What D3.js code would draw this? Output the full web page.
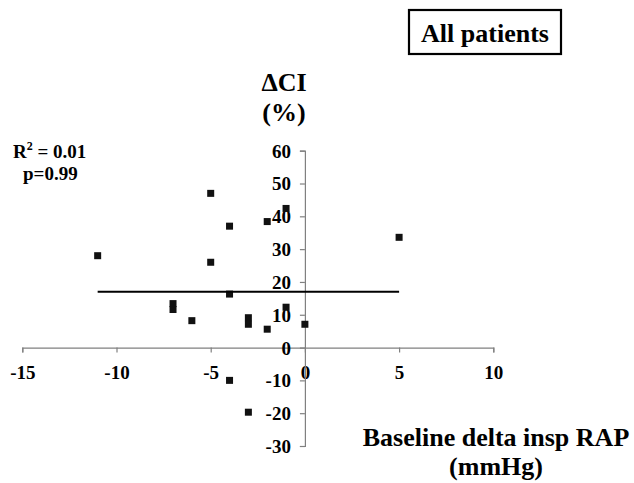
<!DOCTYPE html>
<html>
<head>
<meta charset="utf-8">
<script src="https://cdn.jsdelivr.net/npm/d3@7/dist/d3.min.js"></script>
<style>
  html, body { margin: 0; padding: 0; background: #fff; }
  svg { display: block; }
  svg text { font-family: "Liberation Serif", "Times New Roman", serif !important; font-weight: bold; fill: #000; }
</style>
</head>
<body>
<script>
// ---- data ----
const deltaRAP = [-11, -7, -7, -6, -5, -5, -4, -4, -4, -3, -3, -3, -2, -2, -1, -1, 0, 5];
const deltaCI  = [28, 13.4, 11.6, 8.2, 47, 26, 37, 16.3, -10, 9.1, 7.1, -19.7, 38.4, 5.6, 42.4, 12.3, 7.1, 33.6];
const trendX = [-11, 5];
const trendY = [17, 17];
const xTicks = [-15, -10, -5, 0, 5, 10];
const yTicks = [-30, -20, -10, 0, 10, 20, 30, 40, 50, 60];
const title = "All patients";
const statsLines = ["R", " = 0.01", "p=0.99"];

const W = 634, H = 483;
const svg = d3.select("body").append("svg").attr("width", W).attr("height", H);

const x = d3.scaleLinear().domain([-15, 10]).range([22.3, 493.3]);
const y = d3.scaleLinear().domain([-30, 60]).range([446, 150.7]);

// x axis at y=0
const gx = svg.append("g").attr("transform", `translate(0,${y(0)})`)
  .call(d3.axisBottom(x).tickValues(xTicks).tickSize(5).tickPadding(13));
// y axis at x=0
const gy = svg.append("g").attr("transform", `translate(${x(0)},0)`)
  .call(d3.axisLeft(y).tickValues(yTicks).tickSize(5).tickPadding(9));

[gx, gy].forEach(g => {
  g.attr("font-family", null);
  g.select(".domain").attr("stroke", "#808080").attr("stroke-width", 1.2);
  g.selectAll(".tick line").attr("stroke", "#808080").attr("stroke-width", 1.2);
  g.selectAll(".tick text").attr("font-size", 19).attr("fill", "#000").text(d => String(d));
});
gx.selectAll(".tick text").attr("dy", "0.71em");
gy.selectAll(".tick text").attr("dy", "0.34em");

// points
const pts = deltaRAP.map((d, i) => ({ x: d, y: deltaCI[i] }));
const ms = 7;
svg.append("g").selectAll("rect").data(pts).join("rect")
  .attr("x", d => x(d.x) - ms / 2)
  .attr("y", d => y(d.y) - ms / 2)
  .attr("width", ms).attr("height", ms)
  .attr("fill", "#111");

// trend line
svg.append("path")
  .datum(trendX.map((d, i) => [d, trendY[i]]))
  .attr("d", d3.line().x(d => x(d[0])).y(d => y(d[1])))
  .attr("stroke", "#000").attr("stroke-width", 2).attr("fill", "none");

// title box
svg.append("rect").attr("x", 409).attr("y", 10).attr("width", 152).attr("height", 44)
  .attr("fill", "none").attr("stroke", "#000").attr("stroke-width", 2.2);
svg.append("text").attr("x", 485).attr("y", 42).attr("text-anchor", "middle")
  .attr("font-size", 26).text(title);

// y axis title
svg.append("text").attr("x", 284).attr("y", 90.5).attr("text-anchor", "middle")
  .attr("font-size", 26).text("ΔCI");
svg.append("text").attr("x", 284).attr("y", 121).attr("text-anchor", "middle")
  .attr("font-size", 26).text("(%)");

// x axis title
svg.append("text").attr("x", 496).attr("y", 446).attr("text-anchor", "middle")
  .attr("font-size", 26).text("Baseline delta insp RAP");
svg.append("text").attr("x", 496).attr("y", 475).attr("text-anchor", "middle")
  .attr("font-size", 26).text("(mmHg)");

// stats
const st = svg.append("text").attr("x", 13).attr("y", 158).attr("font-size", 19);
st.append("tspan").text(statsLines[0]);
st.append("tspan").attr("font-size", 12).attr("dy", -8).text("2");
st.append("tspan").attr("dy", 8).text(statsLines[1]);
svg.append("text").attr("x", 23).attr("y", 180).attr("font-size", 19).text(statsLines[2]);
</script>
</body>
</html>
